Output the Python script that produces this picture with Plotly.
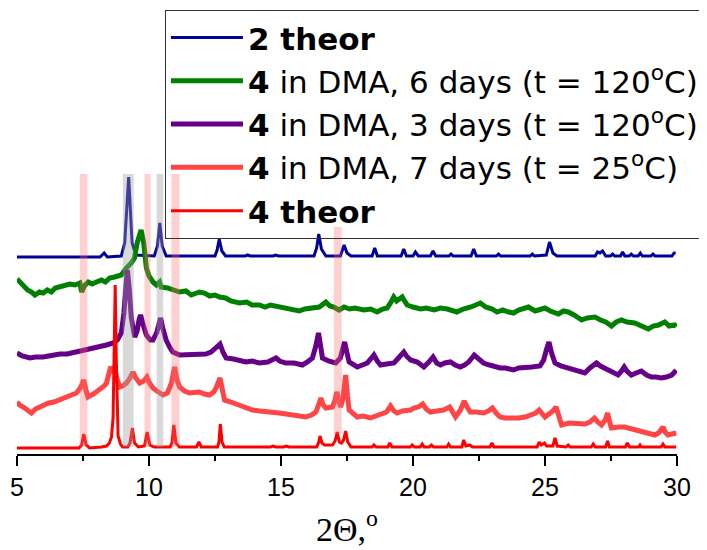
import plotly.graph_objects as go

# ---- data (intensity in arbitrary units, stacked offsets included) ----
x_2theor = [5.0, 8.15, 8.30, 8.42, 8.95, 9.08, 9.23, 9.36, 9.5, 10.2, 10.32, 10.41, 10.5, 10.65,
            12.5, 12.58, 12.66, 12.76, 12.9, 13.65, 13.74, 13.83, 14.7, 14.8, 14.9,
            16.25, 16.35, 16.43, 16.53, 16.7, 17.25, 17.39, 17.5, 17.65,
            18.45, 18.55, 18.65, 19.55, 19.65, 19.75, 20.0, 20.09, 20.2, 20.66, 20.76, 20.86,
            21.36, 21.44, 21.52, 22.2, 22.3, 22.4, 23.16, 23.24, 23.32, 24.44, 24.52, 24.6,
            25.05, 25.17, 25.3, 25.45, 26.9, 26.99, 27.08, 27.18, 27.3, 27.48, 27.56, 27.64,
            27.86, 27.94, 28.02, 28.19, 28.27, 28.35, 28.53, 28.61, 28.69, 29.01, 29.09, 29.17,
            29.81, 29.89, 29.95]
y_2theor = [201, 201, 205, 201, 202, 215, 281, 215, 203, 202, 212, 235, 212, 202,
            202, 208, 219, 207, 202, 202, 203, 202, 202, 203, 202,
            202, 210, 224, 209, 202, 202, 213, 205, 202,
            202, 210, 202, 202, 209, 202, 202, 206, 202, 202, 207, 202,
            202, 204, 202, 202, 209, 202, 202, 204, 202, 202, 204, 202,
            203, 216, 205, 202, 202, 206, 205, 207, 202, 202, 204, 202,
            202, 206, 202, 202, 204, 202, 202, 205, 202, 202, 204, 202,
            202, 205, 205]

x_6days = [5.0, 5.1, 5.24, 5.4, 5.55, 5.68, 5.85, 5.99, 6.15, 6.3, 6.45, 6.62, 6.8, 7.0, 7.2, 7.38,
           7.45, 7.55, 7.7, 7.85, 8.01, 8.2, 8.35, 8.51, 8.7, 8.95, 9.14, 9.33, 9.45, 9.55, 9.70,
           9.80, 9.9, 10.0, 10.15, 10.28, 10.4, 10.46, 10.7, 10.9, 11.16, 11.4, 11.6, 11.91, 12.1,
           12.3, 12.5, 12.67, 12.9, 13.1, 13.42, 13.7, 13.9, 14.18, 14.4, 14.6, 14.93, 15.2, 15.45,
           15.69, 15.9, 16.19, 16.45, 16.7, 16.85, 17.0, 17.2, 17.39, 17.6, 17.8, 18.14, 18.4,
           18.64, 18.85, 19.02, 19.15, 19.27, 19.38, 19.46, 19.59, 19.68, 19.78, 20.0, 20.28,
           20.5, 20.8, 21.04, 21.3, 21.66, 21.9, 22.2, 22.4, 22.55, 22.75, 23.0, 23.18, 23.4,
           23.62, 23.81, 24.0, 24.2, 24.37, 24.63, 24.8, 25.0, 25.2, 25.51, 25.7, 25.88, 26.1,
           26.39, 26.6, 26.89, 27.1, 27.3, 27.52, 27.7, 27.9, 28.1, 28.4, 28.6, 28.91, 29.1,
           29.3, 29.54, 29.7, 29.91, 29.97]
y_6days = [179, 176, 171, 168, 166, 163, 166, 165, 168, 166, 170, 171, 172, 174, 173, 175,
           166, 172, 176, 174, 176, 178, 176, 180, 181, 183, 190, 195, 200, 215, 228,
           215, 190, 182, 176, 173, 176, 171, 170, 168, 166, 167, 163, 166, 165,
           162, 163, 161, 160, 157, 155, 156, 153, 153, 151, 153, 151, 149, 148,
           147, 149, 150, 151, 156, 152, 151, 148, 151, 149, 150, 148, 149,
           146, 149, 150, 155, 161, 157, 158, 161, 157, 153, 151, 149,
           150, 148, 150, 149, 146, 149, 151, 153, 155, 151, 149, 146, 148,
           146, 145, 148, 150, 151, 147, 149, 150, 147, 144, 147, 146, 143,
           138, 140, 141, 138, 136, 132, 136, 138, 136, 135, 133, 129, 132,
           133, 136, 132, 133, 131]

x_3days = [5.0, 5.2, 5.49, 5.7, 5.99, 6.3, 6.62, 6.9, 7.25, 7.5, 7.88, 8.1, 8.39, 8.64, 8.8, 8.95,
           9.05, 9.12, 9.18, 9.25, 9.33, 9.46, 9.55, 9.62, 9.68, 9.76, 9.90, 10.05, 10.15, 10.3,
           10.44, 10.52, 10.65, 10.8, 10.90, 11.16, 11.53, 11.91, 12.15, 12.35, 12.55, 12.69,
           12.8, 12.92, 13.2, 13.45, 13.67, 13.9, 14.18, 14.5, 14.7, 14.81, 14.95, 15.18, 15.5,
           15.81, 16.0, 16.19, 16.32, 16.42, 16.5, 16.57, 16.8, 17.07, 17.25, 17.35, 17.41,
           17.5, 17.58, 17.89, 18.1, 18.27, 18.4, 18.52, 18.65, 18.77, 19.0, 19.28, 19.45,
           19.58, 19.65, 19.75, 19.91, 20.16, 20.41, 20.6, 20.76, 20.9, 21.04, 21.2, 21.42,
           21.6, 21.79, 21.95, 22.11, 22.32, 22.5, 22.67, 22.9, 23.1, 23.30, 23.5, 23.81, 24.0,
           24.25, 24.5, 24.81, 24.95, 25.05, 25.15, 25.25, 25.38, 25.6, 25.88, 26.1, 26.3,
           26.51, 26.7, 26.85, 26.95, 27.1, 27.39, 27.6, 27.77, 27.9, 28.0, 28.1, 28.27, 28.45,
           28.65, 28.85, 29.03, 29.2, 29.41, 29.6, 29.8, 29.91, 29.97]
y_3days = [105, 102, 100, 101, 101, 103, 104, 104, 106, 107, 110, 111, 113, 115, 118, 125,
           145, 170, 188, 170, 140, 121, 127, 138, 143, 135, 123, 118, 118, 126,
           140, 130, 118, 110, 106, 103, 103, 103, 104, 106, 110, 114,
           106, 100, 99, 97, 96, 97, 95, 96, 98, 100, 97, 95, 95,
           93, 96, 100, 112, 125, 112, 100, 97, 95, 100, 110, 116,
           105, 96, 91, 93, 95, 99, 103, 97, 93, 94, 95, 100,
           104, 106, 102, 98, 96, 91, 96, 101, 95, 93, 95, 96,
           93, 91, 93, 96, 103, 98, 95, 93, 91, 90, 90, 88, 90,
           90, 91, 92, 98, 108, 116, 105, 95, 92, 90, 88, 87,
           85, 90, 94, 95, 92, 88, 85, 83, 87, 91, 87, 83, 85,
           87, 83, 81, 81, 80, 81, 83, 86, 88]

x_7days = [5.0, 5.1, 5.24, 5.4, 5.55, 5.7, 5.85, 5.99, 6.2, 6.4, 6.62, 6.8, 7.0, 7.25, 7.4, 7.53,
           7.62, 7.69, 7.9, 8.13, 8.3, 8.39, 8.48, 8.55, 8.62, 8.70, 8.78, 8.89, 9.0, 9.15, 9.28,
           9.39, 9.5, 9.65, 9.8, 9.92, 10.02, 10.15, 10.3, 10.53, 10.7, 10.85, 10.97, 11.06,
           11.16, 11.35, 11.53, 11.7, 11.91, 12.1, 12.29, 12.45, 12.54, 12.69, 12.78, 12.86,
           13.1, 13.42, 13.7, 13.92, 14.2, 14.43, 14.7, 14.93, 15.2, 15.43, 15.7, 15.94, 16.15,
           16.32, 16.44, 16.51, 16.6, 16.70, 16.95, 17.05, 17.11, 17.18, 17.26, 17.35, 17.45,
           17.52, 17.58, 17.89, 18.1, 18.39, 18.6, 18.77, 19.0, 19.15, 19.28, 19.40, 19.6,
           19.91, 20.03, 20.2, 20.37, 20.5, 20.66, 20.9, 21.16, 21.39, 21.5, 21.61, 21.8,
           21.94, 22.05, 22.17, 22.4, 22.67, 22.85, 23.01, 23.15, 23.30, 23.5, 23.62, 23.81,
           24.0, 24.25, 24.5, 24.65, 24.78, 24.9, 25.0, 25.15, 25.3, 25.42, 25.52, 25.63, 25.9,
           26.14, 26.3, 26.51, 26.7, 26.87, 27.0, 27.14, 27.28, 27.37, 27.45, 27.52, 27.8,
           28.02, 28.3, 28.65, 28.9, 29.16, 29.3, 29.47, 29.55, 29.66, 29.8, 29.91, 29.97]
y_7days = [56, 53, 51, 48, 45, 49, 51, 53, 55, 56, 58, 60, 62, 65, 70, 78,
           67, 61, 64, 68, 72, 75, 82, 91, 88, 90, 80, 71, 72, 75, 80,
           86, 80, 75, 77, 81, 75, 70, 67, 63, 65, 75, 91, 78,
           71, 67, 65, 66, 66, 64, 63, 66, 70, 80, 68, 58,
           56, 53, 50, 48, 47, 46, 46, 45, 44, 43, 42, 41, 43,
           46, 54, 60, 53, 50, 51, 58, 66, 58, 51, 60, 83,
           62, 48, 41, 42, 40, 42, 43, 46, 52, 47, 45, 47,
           48, 50, 51, 54, 49, 46, 47, 48, 51, 46, 41, 48,
           57, 51, 46, 46, 45, 47, 50, 45, 41, 40, 40, 39,
           40, 41, 43, 45, 48, 44, 41, 44, 47, 51, 42, 33, 35,
           35, 35, 34, 36, 40, 36, 33, 38, 45, 36, 30, 31,
           31, 29, 27, 25, 23, 25, 31, 26, 23, 24, 25, 25]

x_4theor = [5.0, 7.35, 7.45, 7.53, 7.62, 7.75, 8.2, 8.39, 8.5, 8.58, 8.64, 8.68, 8.72, 8.76, 8.8,
            8.83, 8.92, 9.0, 9.2, 9.28, 9.37, 9.45, 9.6, 9.83, 9.93, 10.03, 10.2, 10.8, 10.87,
            10.94, 11.02, 11.15, 11.8, 11.89, 11.98, 12.6, 12.65, 12.70, 12.77, 12.85, 14.6, 14.7,
            14.8, 15.1, 15.2, 15.3, 16.35, 16.42, 16.48, 16.55, 16.65, 16.95, 17.05, 17.13, 17.21,
            17.29, 17.37, 17.45, 17.53, 17.65, 18.45, 18.52, 18.6, 19.05, 19.12, 19.2, 19.9,
            19.97, 20.05, 20.28, 20.35, 20.42, 20.62, 20.7, 20.78, 21.28, 21.35, 21.42, 21.85,
            21.92, 22.0, 22.15, 22.25, 22.92, 22.99, 23.06, 24.7, 24.78, 24.86, 24.98, 25.06,
            25.3, 25.38, 25.46, 25.8, 25.88, 25.96, 26.75, 26.83, 26.9, 27.3, 27.37, 27.44,
            28.05, 28.12, 28.2, 28.55, 28.6, 28.65, 29.4, 29.47, 29.54, 29.97]
y_4theor = [10, 10, 13, 24, 13, 10, 11, 12, 15, 21, 40, 100, 173, 100, 40,
            22, 14, 11, 11, 15, 30, 15, 11, 12, 26, 13, 11, 11, 15,
            33, 15, 11, 11, 16, 11, 11, 16, 34, 16, 11, 11, 12,
            11, 11, 12, 11, 11, 15, 22, 15, 13, 13, 17, 26, 16,
            15, 18, 27, 16, 11, 11, 13, 11, 11, 15, 11, 11,
            13, 11, 11, 14, 11, 11, 13, 11, 11, 14, 11, 11,
            18, 12, 13, 11, 11, 15, 11, 11, 16, 13, 15, 12,
            12, 20, 12, 11, 13, 11, 11, 14, 11, 11, 17, 11,
            11, 15, 11, 11, 13, 11, 11, 14, 11, 11]

series_names = ["<b>2 theor</b>",
                "<b>4</b> in DMA, 6 days (t = 120<sup>o</sup>C)",
                "<b>4</b> in DMA, 3 days (t = 120<sup>o</sup>C)",
                "<b>4</b> in DMA, 7 days (t = 25<sup>o</sup>C)",
                "<b>4 theor</b>"]
series_colors = ["#000099", "#008000", "#660088", "#ff4545", "#ff0000"]
series_widths = [3, 5, 5, 5, 3]

# highlighted 2-theta regions: (x0, x1, y0, y1)
bands_pink = [(7.38, 7.67, 11, 284), (9.83, 10.06, 11, 284), (10.85, 11.16, 11, 284), (17.0, 17.3, 24, 231)]
bands_gray = [(9.01, 9.42, 11, 284), (10.29, 10.54, 11, 284)]

x_ticks = [5, 10, 15, 20, 25, 30]

# ---- figure ----
fig = go.Figure()
xs = [x_2theor, x_6days, x_3days, x_7days, x_4theor]
ys = [y_2theor, y_6days, y_3days, y_7days, y_4theor]
for xv, yv, nm, col, w in zip(xs, ys, series_names, series_colors, series_widths):
    fig.add_trace(go.Scatter(x=xv, y=yv, mode="lines", name=nm,
                             line=dict(color=col, width=w)))

for x0, x1, y0, y1 in bands_pink:
    fig.add_shape(type="rect", xref="x", yref="y", x0=x0, x1=x1, y0=y0, y1=y1,
                  fillcolor="rgba(255,110,110,0.32)", line=dict(width=0), layer="above")
for x0, x1, y0, y1 in bands_gray:
    fig.add_shape(type="rect", xref="x", yref="y", x0=x0, x1=x1, y0=y0, y1=y1,
                  fillcolor="rgba(160,160,160,0.4)", line=dict(width=0), layer="above")

SANS = "Liberation Sans, Arial, sans-serif"
fig.update_layout(
    width=707, height=550,
    margin=dict(l=9, r=38, t=4, b=104, autoexpand=False),
    paper_bgcolor="white", plot_bgcolor="white",
    font=dict(family=SANS, color="black"),
    showlegend=True,
    legend=dict(x=0.2242, y=1.005, xanchor="left", yanchor="top",
                bgcolor="rgba(255,255,255,0)", bordercolor="#333", borderwidth=1,
                font=dict(size=31, family="DejaVu Sans, sans-serif", color="black"),
                itemwidth=72, tracegroupgap=0, traceorder="normal"),
    xaxis=dict(range=[5, 30], tickvals=x_ticks, ticktext=[str(t) for t in x_ticks],
               showline=True, linecolor="black", linewidth=1.5,
               ticks="outside", ticklen=10, tickwidth=1.5, tickcolor="black",
               minor=dict(dtick=2.5, tick0=5, ticks="outside", ticklen=5, tickwidth=1.5, tickcolor="black"),
               showgrid=False, zeroline=False,
               tickfont=dict(size=25, family=SANS, color="black"),
               title=dict(text="2Θ,<sup>o</sup>", standoff=17,
                          font=dict(size=34, family="Liberation Serif, Times New Roman, serif", color="black"))),
    yaxis=dict(range=[4, 446], visible=False, showgrid=False, zeroline=False),
)

fig.write_html("out.html")
